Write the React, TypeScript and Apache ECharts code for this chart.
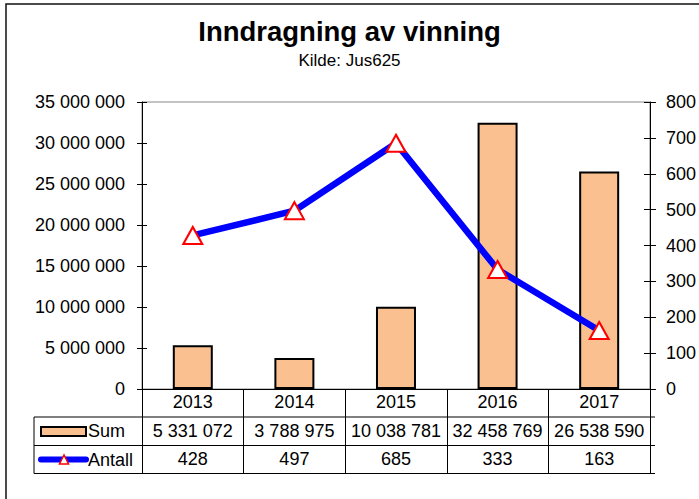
import React, { useEffect, useRef } from "react";
import * as echarts from "echarts";

const categories = ["2013", "2014", "2015", "2016", "2017"];
const sumValues = [5331072, 3788975, 10038781, 32458769, 26538590];
const antallValues = [428, 497, 685, 333, 163];
const seriesNames = ["Sum", "Antall"];
const titleText = "Inndragning av vinning";
const subText = "Kilde: Jus625";
const headingText = "Inndragning av vinning";

const FONT = "'Liberation Sans', Arial, sans-serif";
const fmt = (n: number) => String(n).replace(/\B(?=(\d{3})+(?!\d))/g, " ");

export default function App() {
  const ref = useRef<HTMLDivElement>(null);
  useEffect(() => {
    if (!ref.current) return;
    const chart = echarts.init(ref.current, undefined, { renderer: "svg" });
    const lbl = { fontSize: 18, color: "#000", fontFamily: FONT };
    const option: any = {
      animation: false,
      backgroundColor: "#fff",
      title: {
        text: titleText,
        subtext: subText,
        left: "center",
        top: 12,
        itemGap: 7,
        textStyle: { fontSize: 27.5, fontWeight: "bold", color: "#000", fontFamily: FONT },
        subtextStyle: { fontSize: 17, color: "#000", fontFamily: FONT },
      },
      grid: {
        left: 142,
        right: 44,
        top: 102,
        bottom: 110,
        show: true,
        borderColor: "#888",
        borderWidth: 1,
        backgroundColor: "transparent",
      },
      xAxis: [
        {
          type: "category",
          data: categories,
          position: "bottom",
          axisLine: { show: true, lineStyle: { color: "#000", width: 1 } },
          axisTick: { show: true, length: 85, alignWithLabel: false, lineStyle: { color: "#000", width: 1 } },
          axisLabel: { ...lbl, margin: 4, interval: 0 },
        },
        {
          type: "category",
          data: sumValues.map(fmt),
          position: "bottom",
          offset: 30,
          axisLine: { show: false },
          axisTick: { show: false },
          axisLabel: { ...lbl, margin: 3, interval: 0 },
        },
        {
          type: "category",
          data: antallValues.map((v) => String(v)),
          position: "bottom",
          offset: 58,
          axisLine: { show: false },
          axisTick: { show: false },
          axisLabel: { ...lbl, margin: 3, interval: 0 },
        },
      ],
      yAxis: [
        {
          type: "value",
          position: "left",
          min: 0,
          max: 35000000,
          interval: 5000000,
          axisLine: { show: true, lineStyle: { color: "#000", width: 1 } },
          axisTick: { show: true, length: 5, lineStyle: { color: "#000" } },
          axisLabel: { ...lbl, margin: 17, formatter: (v: number) => fmt(v) },
          splitLine: { show: false },
        },
        {
          type: "value",
          position: "right",
          min: 0,
          max: 800,
          interval: 100,
          axisLine: { show: true, lineStyle: { color: "#000", width: 1 } },
          axisTick: { show: true, length: 6, lineStyle: { color: "#000" } },
          axisLabel: { ...lbl, margin: 16 },
          splitLine: { show: false },
        },
        {
          type: "value",
          position: "left",
          min: 0,
          max: 35000000,
          interval: 5000000,
          axisLine: { show: false },
          axisTick: { show: true, inside: true, length: 5, lineStyle: { color: "#000" } },
          axisLabel: { show: false },
          splitLine: { show: false },
        },
        {
          type: "value",
          position: "right",
          min: 0,
          max: 800,
          interval: 100,
          axisLine: { show: false },
          axisTick: { show: true, inside: true, length: 6, lineStyle: { color: "#000" } },
          axisLabel: { show: false },
          splitLine: { show: false },
        },
      ],
      series: [
        {
          name: seriesNames[0],
          type: "bar",
          xAxisIndex: 0,
          yAxisIndex: 0,
          data: sumValues,
          barWidth: 40,
          itemStyle: { color: "#FAC090", borderColor: "#000", borderWidth: 2 },
          z: 2,
        },
        {
          name: seriesNames[1],
          type: "line",
          xAxisIndex: 0,
          yAxisIndex: 1,
          data: antallValues,
          lineStyle: { color: "#0000FF", width: 6.5 },
          symbol: "triangle",
          symbolSize: [19, 17],
          showSymbol: true,
          itemStyle: { color: "#fff", borderColor: "#FF0000", borderWidth: 2 },
          z: 5,
        },
      ],
      graphic: [
        {
          type: "rect",
          shape: { x: 6, y: 4, width: 800, height: 600 },
          style: { fill: "none", stroke: "#111", lineWidth: 1.5 },
          z: 10,
        },
        {
          type: "text",
          x: 145,
          y: -21,
          style: {
            text: headingText,
            fontSize: 31,
            fontFamily: FONT,
            fill: "#2E4A7D",
            verticalAlign: "middle",
            align: "left",
          },
        },
        { type: "line", shape: { x1: 34, y1: 417, x2: 655, y2: 417 }, style: { stroke: "#000", lineWidth: 1 } },
        { type: "line", shape: { x1: 34, y1: 445.5, x2: 655, y2: 445.5 }, style: { stroke: "#000", lineWidth: 1 } },
        { type: "line", shape: { x1: 34, y1: 473.5, x2: 655, y2: 473.5 }, style: { stroke: "#000", lineWidth: 1 } },
        { type: "line", shape: { x1: 34, y1: 417, x2: 34, y2: 473.5 }, style: { stroke: "#000", lineWidth: 1 } },
        {
          type: "rect",
          shape: { x: 41, y: 427, width: 45, height: 9 },
          style: { fill: "#FAC090", stroke: "#000", lineWidth: 2 },
        },
        {
          type: "text",
          x: 88,
          y: 431,
          style: { text: seriesNames[0], fontSize: 18, fontFamily: FONT, fill: "#000", verticalAlign: "middle" },
        },
        {
          type: "line",
          shape: { x1: 41, y1: 459.5, x2: 86, y2: 459.5 },
          style: { stroke: "#0000FF", lineWidth: 6, lineCap: "round" },
        },
        {
          type: "polygon",
          shape: { points: [[64, 455], [59.5, 464], [68.5, 464]] },
          style: { fill: "#fff", stroke: "#FF0000", lineWidth: 1.5 },
        },
        {
          type: "text",
          x: 88,
          y: 459.5,
          style: { text: seriesNames[1], fontSize: 18, fontFamily: FONT, fill: "#000", verticalAlign: "middle" },
        },
      ],
    };
    chart.setOption(option);
    return () => chart.dispose();
  }, []);
  return (
    <div
      ref={ref}
      style={{ position: "fixed", left: 0, top: 0, width: 699, height: 499 }}
    />
  );
}
